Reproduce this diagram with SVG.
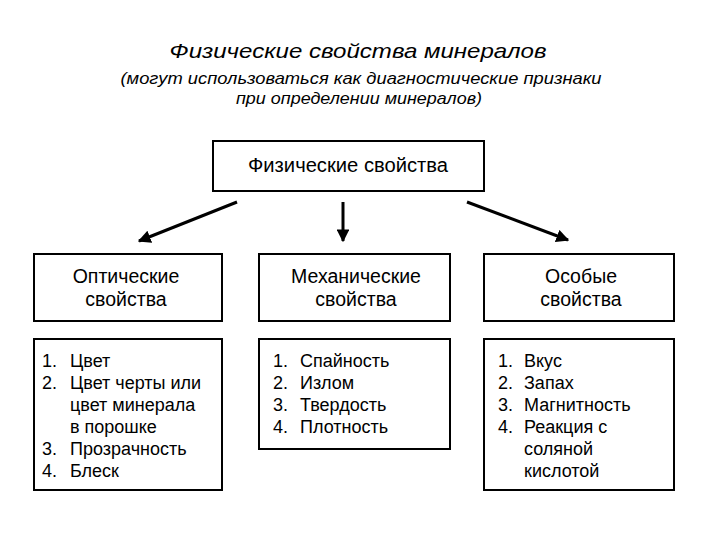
<svg xmlns="http://www.w3.org/2000/svg" width="720" height="540" viewBox="0 0 720 540">
<defs>
<style>
.box{fill:#fff;stroke:#000;stroke-width:2}
.t{font-family:"Liberation Sans",Arial,sans-serif;fill:#000}
.title{font-size:21px;font-style:italic}
.sub{font-size:17px;font-style:italic}
.hd{font-size:19.5px}
.li{font-size:18px}
.arr{stroke:#000;stroke-width:3;fill:none;marker-end:url(#ah)}
</style>
<marker id="ah" viewBox="0 0 10 10" refX="9" refY="5" markerWidth="4.3" markerHeight="4.3" orient="auto" markerUnits="strokeWidth">
<path d="M0,0 L10,5 L0,10 z" fill="#000"/>
</marker>
</defs>
<rect width="720" height="540" fill="#fff"/>
<g id="title">
<text class="t title" x="358" y="58" text-anchor="middle" textLength="377" lengthAdjust="spacingAndGlyphs">Физические свойства минералов</text>
<text class="t sub" x="361" y="84" text-anchor="middle" textLength="481" lengthAdjust="spacingAndGlyphs">(могут использоваться как диагностические признаки</text>
<text class="t sub" x="359" y="104" text-anchor="middle" textLength="246" lengthAdjust="spacingAndGlyphs">при определении минералов)</text>
</g>
<g id="root">
<rect class="box" x="213" y="141" width="271" height="50"/>
<text class="t hd" x="348" y="172" text-anchor="middle" textLength="200" lengthAdjust="spacingAndGlyphs">Физические свойства</text>
</g>
<g id="connectors">
<line class="arr" x1="237" y1="202" x2="139" y2="241"/>
<line class="arr" x1="343" y1="202" x2="343" y2="241"/>
<line class="arr" x1="467" y1="202" x2="568" y2="240"/>
</g>
<g id="optical">
<rect class="box" x="34" y="254" width="188" height="67"/>
<text class="t hd" x="126" y="283" text-anchor="middle">Оптические</text>
<text class="t hd" x="126" y="306" text-anchor="middle">свойства</text>
</g>
<g id="optical-list">
<rect class="box" x="34" y="339" width="188" height="151"/>
<text class="t li" x="42" y="367">1.</text><text class="t li" x="70" y="367">Цвет</text>
<text class="t li" x="42" y="389">2.</text><text class="t li" x="70" y="389">Цвет черты или</text>
<text class="t li" x="70" y="411">цвет минерала</text>
<text class="t li" x="70" y="433">в порошке</text>
<text class="t li" x="42" y="455">3.</text><text class="t li" x="70" y="455">Прозрачность</text>
<text class="t li" x="42" y="477">4.</text><text class="t li" x="70" y="477">Блеск</text>
</g>
<g id="mechanical">
<rect class="box" x="259" y="254" width="191" height="67"/>
<text class="t hd" x="356" y="283" text-anchor="middle">Механические</text>
<text class="t hd" x="356" y="306" text-anchor="middle">свойства</text>
</g>
<g id="mechanical-list">
<rect class="box" x="259" y="339" width="191" height="110"/>
<text class="t li" x="273" y="367">1.</text><text class="t li" x="300" y="367">Спайность</text>
<text class="t li" x="273" y="389">2.</text><text class="t li" x="300" y="389">Излом</text>
<text class="t li" x="273" y="411">3.</text><text class="t li" x="300" y="411">Твердость</text>
<text class="t li" x="273" y="433">4.</text><text class="t li" x="300" y="433">Плотность</text>
</g>
<g id="special">
<rect class="box" x="484" y="254" width="190" height="67"/>
<text class="t hd" x="581" y="283" text-anchor="middle">Особые</text>
<text class="t hd" x="581" y="306" text-anchor="middle">свойства</text>
</g>
<g id="special-list">
<rect class="box" x="484" y="339" width="190" height="151"/>
<text class="t li" x="498" y="367">1.</text><text class="t li" x="524" y="367">Вкус</text>
<text class="t li" x="498" y="389">2.</text><text class="t li" x="524" y="389">Запах</text>
<text class="t li" x="498" y="411">3.</text><text class="t li" x="524" y="411">Магнитность</text>
<text class="t li" x="498" y="433">4.</text><text class="t li" x="524" y="433">Реакция с</text>
<text class="t li" x="524" y="455">соляной</text>
<text class="t li" x="524" y="477">кислотой</text>
</g>
</svg>
